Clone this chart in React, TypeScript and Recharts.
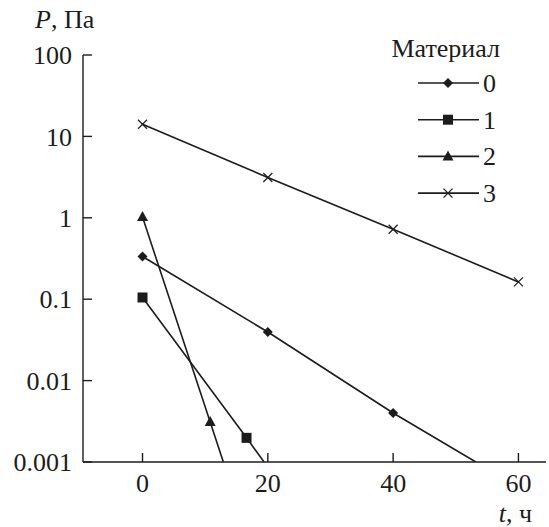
import React from 'react';
import { LineChart, Line, XAxis, YAxis, Legend } from 'recharts';

// time, h
const xTicks = [0, 20, 40, 60];
const yTicks = [0.001, 0.01, 0.1, 1, 10, 100];
const yTickLabels: Record<number, string> = {
  0.001: '0.001',
  0.01: '0.01',
  0.1: '0.1',
  1: '1',
  10: '10',
  100: '100',
};

// measured points, P (Pa)
const mat0 = [
  { t: 0, p: 0.335 },
  { t: 20, p: 0.0395 },
  { t: 40, p: 0.004 },
];
const mat1 = [
  { t: 0, p: 0.105 },
  { t: 16.6, p: 0.00198 },
];
const mat2 = [
  { t: 0, p: 1.02 },
  { t: 10.8, p: 0.0031 },
];
const mat3 = [
  { t: 0, p: 14.1 },
  { t: 20, p: 3.13 },
  { t: 40, p: 0.724 },
  { t: 60, p: 0.163 },
];

// where the fitted lines leave the plot (at the 0.001 floor)
const fitEnd0 = { t: 53.2, p: 0.001 };
const fitEnd1 = { t: 19.4, p: 0.001 };
const fitEnd2 = { t: 12.9, p: 0.001 };

const materials = ['0', '1', '2', '3'];

type Kind = 'diamond' | 'square' | 'triangle' | 'cross';

const INK = '#1c1c1c';
const FONT = "'Liberation Serif', 'Times New Roman', 'DejaVu Serif', serif";
const textCss = { fontFamily: FONT, fontSize: 26 };

const Marker = ({ kind, cx, cy }: { kind: Kind; cx: number; cy: number }) => {
  if (kind === 'diamond') {
    return (
      <polygon
        points={`${cx},${cy - 5} ${cx + 5},${cy} ${cx},${cy + 5} ${cx - 5},${cy}`}
        fill={INK}
      />
    );
  }
  if (kind === 'square') {
    return <rect x={cx - 5} y={cy - 5} width={10} height={10} fill={INK} />;
  }
  if (kind === 'triangle') {
    return (
      <polygon
        points={`${cx},${cy - 6} ${cx + 5.5},${cy + 4} ${cx - 5.5},${cy + 4}`}
        fill={INK}
      />
    );
  }
  return (
    <g stroke={INK} strokeWidth={1.2}>
      <line x1={cx - 4.5} y1={cy - 4.5} x2={cx + 4.5} y2={cy + 4.5} />
      <line x1={cx - 4.5} y1={cy + 4.5} x2={cx + 4.5} y2={cy - 4.5} />
    </g>
  );
};

const makeDot = (kind: Kind) => (props: any) => {
  const { cx, cy, payload, index } = props;
  if (payload?.fit || cx == null || cy == null) return <g key={`d-${kind}-${index}`} />;
  return (
    <g key={`d-${kind}-${index}`}>
      <Marker kind={kind} cx={cx} cy={cy} />
    </g>
  );
};

const kinds: Kind[] = ['diamond', 'square', 'triangle', 'cross'];

const LegendBox = () => (
  <svg width={170} height={190} style={{ overflow: 'visible' }}>
    <text x={125} y={29} textAnchor="end" style={textCss} fill={INK}>
      Материал
    </text>
    {materials.map((m, i) => {
      const cy = 55 + i * 36.7;
      return (
        <g key={m}>
          <line x1={43} y1={cy} x2={104} y2={cy} stroke={INK} strokeWidth={1.6} />
          <Marker kind={kinds[i]} cx={73} cy={cy} />
          <text x={108} y={cy + 9} style={textCss} fill={INK}>
            {m}
          </text>
        </g>
      );
    })}
  </svg>
);

const withFit = (pts: { t: number; p: number }[], end?: { t: number; p: number }) =>
  end ? [...pts, { ...end, fit: true }] : pts;

export default function App() {
  const tickStyle = { style: textCss, fontFamily: FONT, fontSize: 26, fill: INK };
  return (
    <div
      style={{
        position: 'absolute',
        left: 0,
        top: 0,
        width: 549,
        height: 527,
        background: '#fff',
        fontFamily: FONT,
      }}
    >
      <LineChart width={549} height={527} margin={{ top: 55, right: 3, bottom: 5, left: 8 }}>
        <XAxis
          dataKey="t"
          type="number"
          domain={[-9.5, 64.4]}
          ticks={xTicks}
          allowDataOverflow
          height={60}
          tickSize={-9}
          tickMargin={21}
          tick={tickStyle}
          axisLine={{ stroke: INK, strokeWidth: 1.4 }}
          tickLine={{ stroke: INK, strokeWidth: 1.4 }}
        />
        <YAxis
          type="number"
          scale="log"
          domain={[0.001, 100]}
          ticks={yTicks}
          allowDataOverflow
          width={75}
          tickSize={-9}
          tickMargin={20}
          tick={tickStyle}
          tickFormatter={(v: number) => yTickLabels[v] ?? String(v)}
          axisLine={{ stroke: INK, strokeWidth: 1.4 }}
          tickLine={{ stroke: INK, strokeWidth: 1.4 }}
        />
        <Legend
          layout="vertical"
          align="center"
          verticalAlign="middle"
          wrapperStyle={{ left: 375, top: 28, width: 170, height: 190 }}
          content={() => <LegendBox />}
        />
        <Line
          data={withFit(mat3)}
          dataKey="p"
          type="linear"
          stroke={INK}
          strokeWidth={1.6}
          dot={makeDot('cross')}
          activeDot={false}
          isAnimationActive={false}
        />
        <Line
          data={withFit(mat0, fitEnd0)}
          dataKey="p"
          type="linear"
          stroke={INK}
          strokeWidth={1.6}
          dot={makeDot('diamond')}
          activeDot={false}
          isAnimationActive={false}
        />
        <Line
          data={withFit(mat1, fitEnd1)}
          dataKey="p"
          type="linear"
          stroke={INK}
          strokeWidth={1.6}
          dot={makeDot('square')}
          activeDot={false}
          isAnimationActive={false}
        />
        <Line
          data={withFit(mat2, fitEnd2)}
          dataKey="p"
          type="linear"
          stroke={INK}
          strokeWidth={1.6}
          dot={makeDot('triangle')}
          activeDot={false}
          isAnimationActive={false}
        />
      </LineChart>
      <svg
        width={549}
        height={527}
        style={{ position: 'absolute', left: 0, top: 0, pointerEvents: 'none' }}
      >
        <text x={35} y={28} style={textCss} fill={INK}>
          <tspan fontStyle="italic">P</tspan>, Па
        </text>
        <text x={532} y={522} textAnchor="end" style={textCss} fill={INK}>
          <tspan fontStyle="italic">t</tspan>, ч
        </text>
      </svg>
    </div>
  );
}
